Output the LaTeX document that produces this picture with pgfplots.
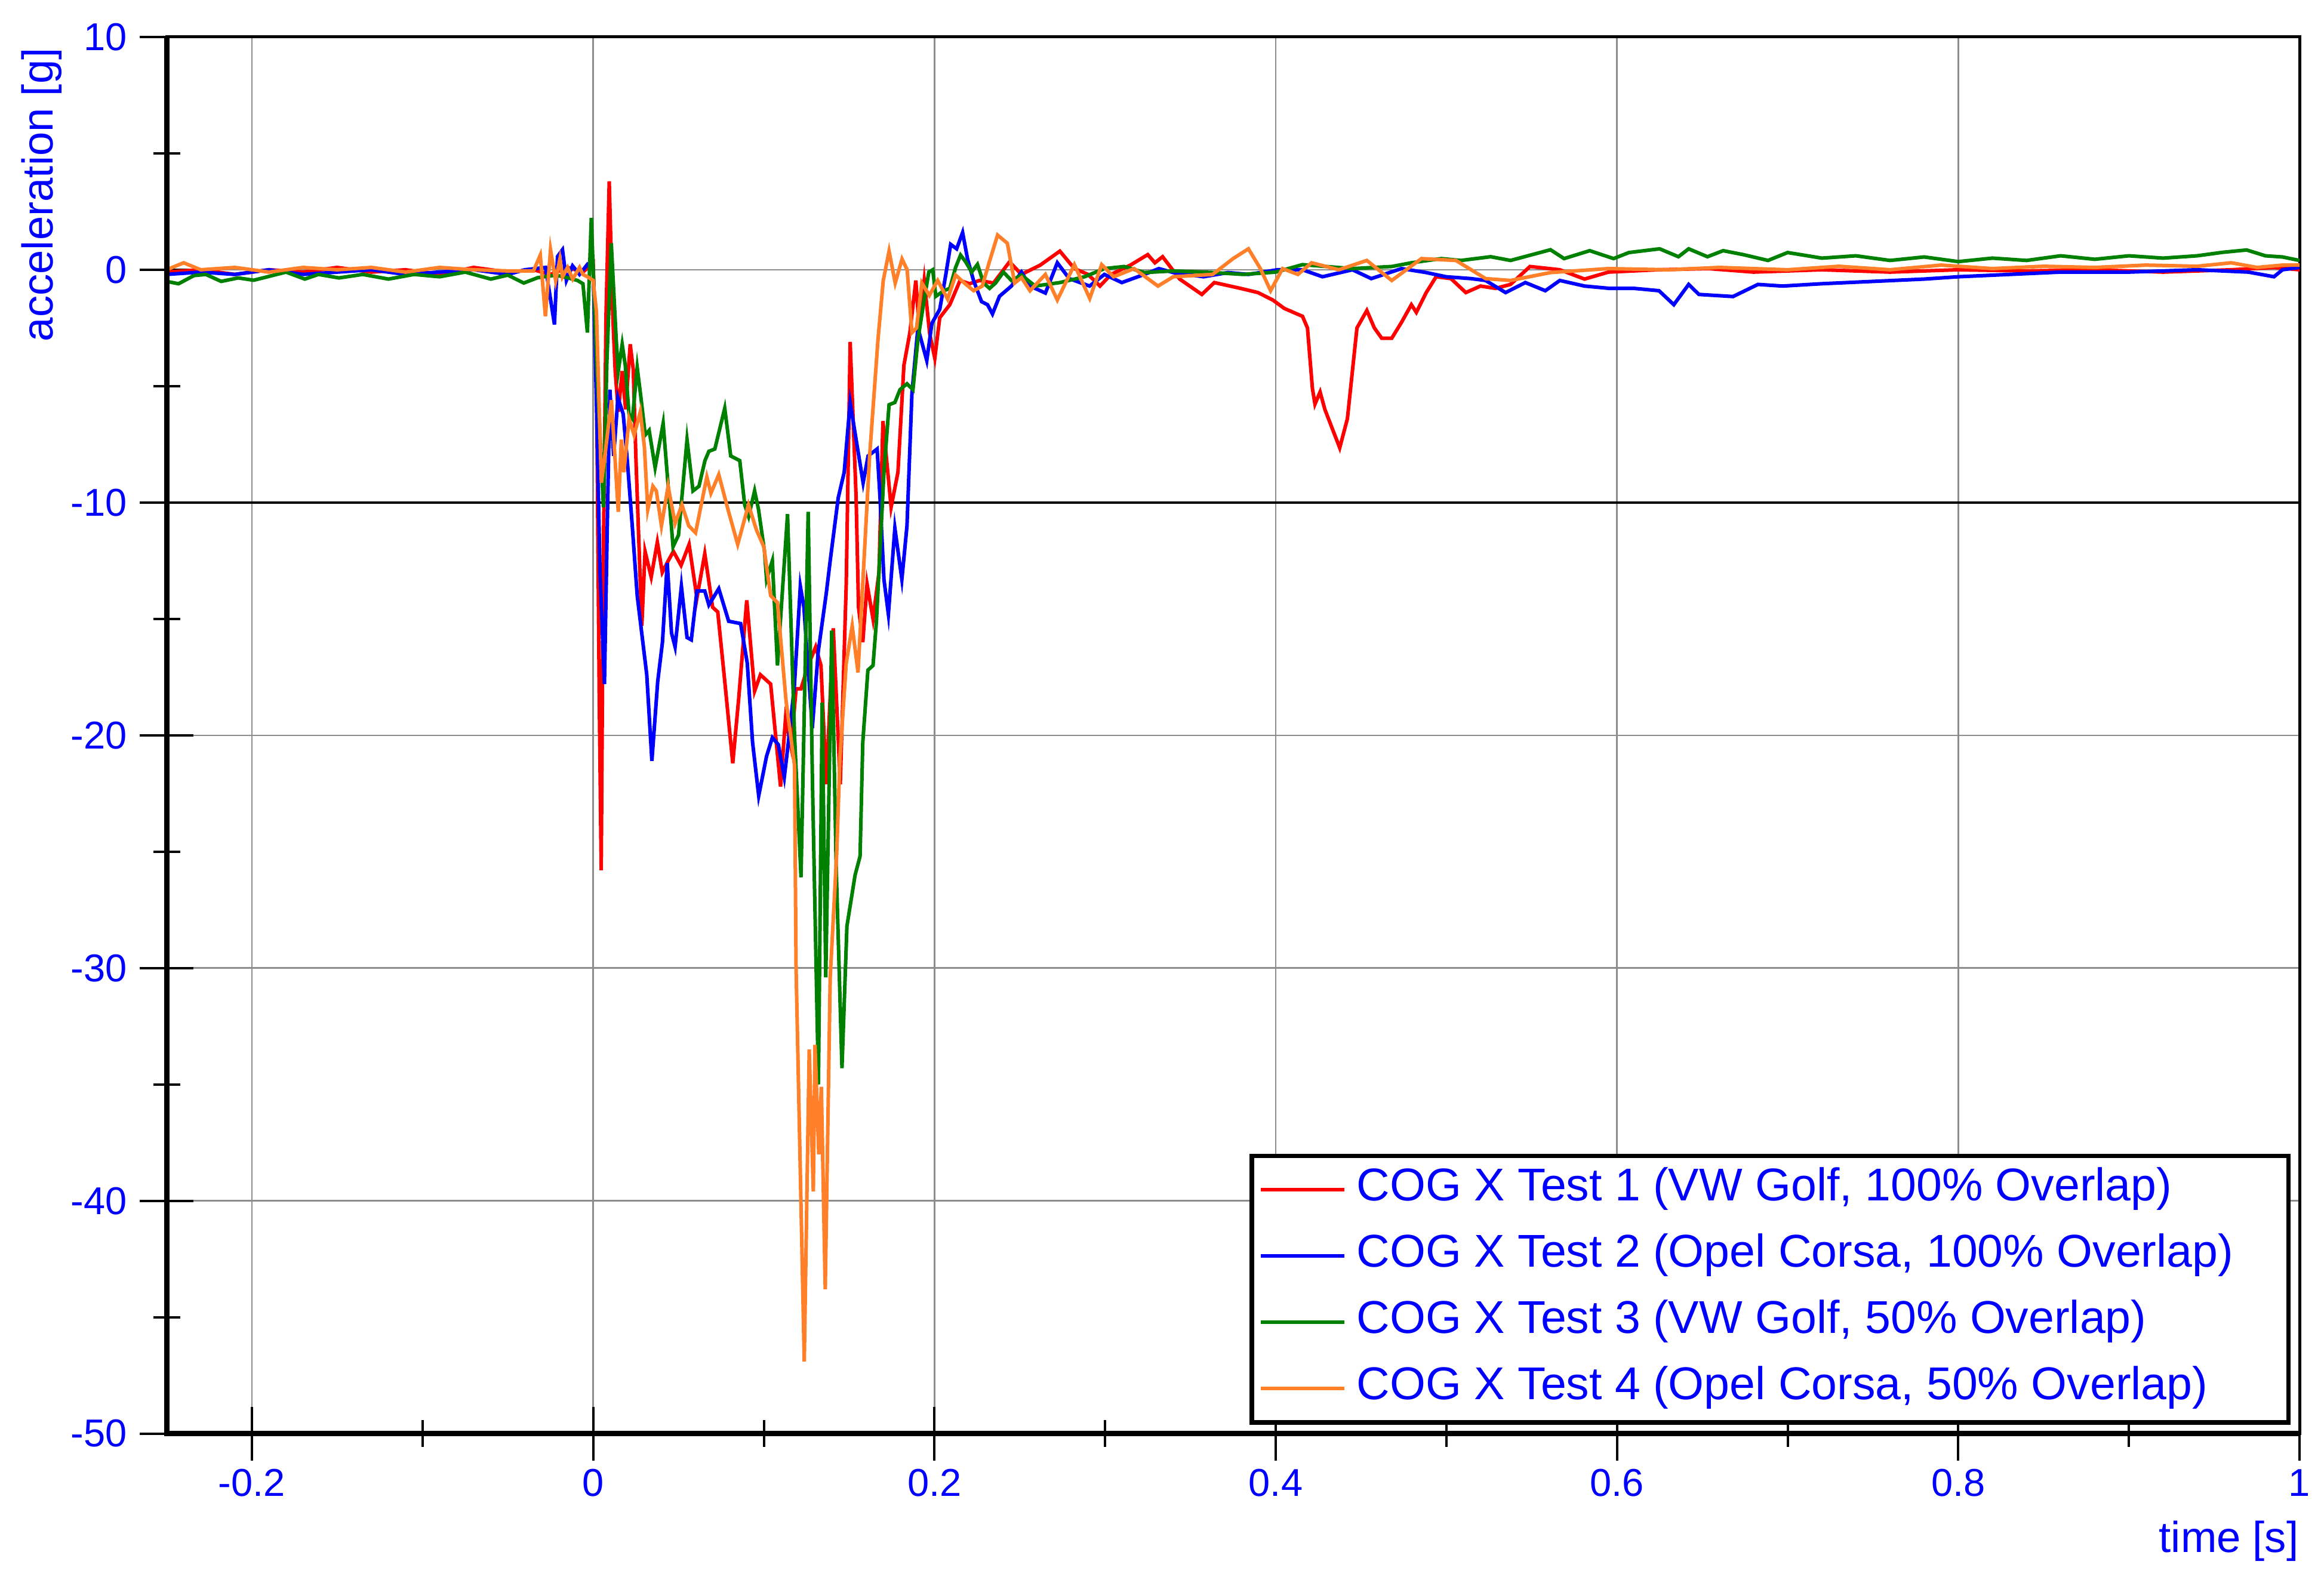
\documentclass[border=0pt]{standalone}
\usepackage{fontspec}
\setmainfont{Liberation Sans}
\usepackage{pgfplots}
\usepackage{pgfplotstable}
\pgfplotsset{compat=1.18}

\definecolor{cogred}{RGB}{255,0,0}
\definecolor{cogblue}{RGB}{0,0,255}
\definecolor{coggreen}{RGB}{0,128,0}
\definecolor{cogorange}{RGB}{255,128,40}
\definecolor{txtblue}{RGB}{0,0,255}

% test 1, VW Golf 100%
\pgfplotstableread{
t a
-0.25 -0.1
-0.23 0.0
-0.21 -0.2
-0.19 0.0
-0.17 -0.1
-0.15 0.1
-0.13 -0.1
-0.11 0.0
-0.09 -0.2
-0.07 0.1
-0.05 -0.1
-0.035 0.0
-0.025 -0.2
-0.015 0.1
-0.006 -0.1
0.000 0.3
0.002 -5
0.0035 -18
0.0047 -25.8
0.006 -12
0.0075 -2
0.0094 3.8
0.0115 -2
0.0129 -4.35
0.0147 -6.1
0.017 -4.35
0.019 -6.0
0.0217 -3.2
0.0235 -4.3
0.025 -8
0.0285 -15.3
0.0304 -12.1
0.034 -13.2
0.0376 -11.7
0.0405 -13.0
0.044 -12.5
0.047 -12.1
0.0515 -12.7
0.0562 -11.8
0.0608 -14.1
0.0654 -12.2
0.070 -14.5
0.073 -14.7
0.077 -17.6
0.0818 -21.2
0.0853 -18.4
0.090 -14.2
0.0946 -18.1
0.098 -17.4
0.104 -17.8
0.1098 -22.2
0.1127 -19.3
0.116 -20.5
0.1189 -18.0
0.1218 -18.0
0.126 -17.0
0.1304 -16.2
0.1335 -17.0
0.1366 -22.1
0.1407 -15.4
0.1448 -22.1
0.1483 -13.5
0.1506 -3.1
0.1541 -9.8
0.1555 -14.5
0.158 -16.0
0.1605 -13.5
0.164 -15.0
0.1675 -13.0
0.1698 -6.5
0.1746 -10.2
0.1786 -8.7
0.1821 -4.1
0.1856 -2.7
0.1891 -0.46
0.191 -2.5
0.194 -0.46
0.1972 -2.75
0.2002 -3.8
0.2031 -2.06
0.209 -1.5
0.215 -0.46
0.2205 -0.6
0.2264 -0.46
0.2346 -0.57
0.244 0.34
0.251 -0.2
0.262 0.2
0.2735 0.8
0.282 0.05
0.290 -0.2
0.297 -0.7
0.3035 -0.2
0.3148 0.2
0.325 0.65
0.3292 0.3
0.3337 0.56
0.3437 -0.4
0.3567 -1.06
0.364 -0.55
0.3794 -0.8
0.3896 -0.98
0.3983 -1.3
0.405 -1.66
0.4157 -2.0
0.4186 -2.5
0.4215 -5.1
0.423 -5.77
0.426 -5.25
0.4288 -6.0
0.4375 -7.65
0.442 -6.4
0.4476 -2.5
0.4534 -1.75
0.4578 -2.5
0.4621 -2.94
0.468 -2.94
0.4737 -2.26
0.4795 -1.5
0.4824 -1.83
0.4882 -0.98
0.494 -0.3
0.5027 -0.38
0.5114 -0.98
0.52 -0.7
0.5288 -0.8
0.5376 -0.63
0.549 0.14
0.5665 0.0
0.581 -0.4
0.595 -0.1
0.624 0.0
0.6537 0.05
0.68 -0.1
0.72 0.0
0.76 -0.1
0.80 0.0
0.84 -0.05
0.88 0.0
0.92 -0.1
0.96 0.0
0.985 0.1
1.0 0.0
}\testone

% test 2, Opel Corsa 100%
\pgfplotstableread{
t a
-0.25 -0.2
-0.23 -0.1
-0.21 -0.2
-0.19 0.0
-0.17 -0.2
-0.15 -0.1
-0.13 0.0
-0.11 -0.2
-0.09 -0.1
-0.07 0.0
-0.05 -0.2
-0.04 0.0
-0.0279 0.1
-0.0227 -2.35
-0.0209 0.57
-0.018 0.86
-0.0157 -0.46
-0.0121 0.17
-0.008 -0.2
-0.0034 0.23
0.000 0.0
0.002 -6
0.004 -13
0.0066 -17.8
0.0085 -10
0.0098 -5.15
0.012 -8.0
0.0145 -5.5
0.0176 -6.2
0.020 -8.2
0.0229 -11.0
0.0258 -14
0.0314 -17.4
0.0344 -21.1
0.0378 -17.7
0.0406 -16.0
0.0434 -12.6
0.0459 -15.6
0.048 -16.2
0.0517 -13.6
0.055 -15.8
0.0575 -15.9
0.0608 -13.8
0.0654 -13.8
0.0678 -14.4
0.0736 -13.7
0.0794 -15.1
0.0864 -15.2
0.0903 -16.9
0.0934 -20.3
0.097 -22.6
0.1016 -20.9
0.105 -20.1
0.1085 -20.4
0.112 -21.8
0.1144 -20.3
0.1179 -17.9
0.1214 -13.6
0.1235 -14.5
0.1284 -19.7
0.1319 -16.4
0.1366 -13.9
0.1389 -12.5
0.1436 -9.8
0.1471 -8.7
0.1506 -5.7
0.1541 -7.3
0.1582 -9.15
0.1611 -8.0
0.1664 -7.7
0.1681 -9.8
0.1704 -13.3
0.173 -14.8
0.1768 -11.1
0.1809 -13.3
0.1839 -11.0
0.1868 -5.3
0.1903 -2.5
0.1955 -3.9
0.1985 -2.3
0.2031 -1.7
0.2066 -0.23
0.2095 1.09
0.2130 0.9
0.2165 1.6
0.2194 0.46
0.2229 -0.46
0.2276 -1.37
0.2311 -1.5
0.234 -1.9
0.2381 -1.14
0.2451 -0.7
0.251 -0.1
0.256 -0.7
0.265 -1.0
0.272 0.3
0.279 -0.38
0.2909 -0.7
0.2996 -0.2
0.3098 -0.55
0.323 -0.2
0.3315 0.05
0.340 -0.12
0.3577 -0.3
0.372 -0.12
0.384 -0.2
0.401 0.0
0.4157 0.0
0.4274 -0.3
0.445 0.0
0.456 -0.38
0.4737 0.05
0.4882 -0.12
0.4998 -0.3
0.5144 -0.38
0.523 -0.46
0.5347 -0.98
0.5463 -0.55
0.558 -0.9
0.5665 -0.46
0.581 -0.7
0.5956 -0.8
0.6101 -0.8
0.6246 -0.9
0.6333 -1.5
0.642 -0.63
0.648 -1.06
0.668 -1.15
0.6826 -0.63
0.697 -0.7
0.72 -0.6
0.75 -0.5
0.78 -0.4
0.80 -0.3
0.83 -0.2
0.86 -0.1
0.90 -0.1
0.94 0.0
0.97 -0.1
0.985 -0.3
0.99 0.0
1.0 0.1
}\testtwo

% test 3, VW Golf 50%
\pgfplotstableread{
t a
-0.25 -0.5
-0.243 -0.6
-0.234 -0.25
-0.227 -0.2
-0.218 -0.5
-0.208 -0.35
-0.199 -0.45
-0.18 -0.1
-0.169 -0.4
-0.161 -0.2
-0.149 -0.35
-0.135 -0.2
-0.12 -0.4
-0.105 -0.2
-0.09 -0.3
-0.075 -0.1
-0.06 -0.4
-0.05 -0.23
-0.0407 -0.57
-0.0325 -0.34
-0.022 -0.23
-0.0151 -0.34
-0.0092 -0.46
-0.006 -0.6
-0.0034 -2.7
-0.0011 2.23
0.002 -4
0.006 -10.2
0.008 -4
0.0106 1.14
0.0135 -3.0
0.0147 -4.35
0.017 -3.2
0.0188 -4.1
0.021 -6.2
0.023 -6.4
0.0258 -4.2
0.028 -5.5
0.0305 -7.1
0.0328 -6.9
0.0363 -8.5
0.041 -6.6
0.0433 -8.7
0.0468 -11.9
0.050 -11.4
0.055 -7.3
0.0585 -9.5
0.062 -9.3
0.0655 -8.2
0.0678 -7.8
0.0713 -7.7
0.0771 -5.95
0.0806 -8.0
0.0859 -8.2
0.0888 -10.1
0.0911 -10.6
0.0946 -9.5
0.0969 -10.3
0.1004 -12.1
0.1016 -13.3
0.105 -12.5
0.108 -17.0
0.1139 -10.5
0.118 -20
0.1218 -26.1
0.126 -10.4
0.1285 -22
0.132 -35
0.1342 -18.6
0.1363 -30.4
0.1398 -15.5
0.1424 -25.6
0.1458 -34.3
0.1487 -28.2
0.1535 -26.0
0.1564 -25.2
0.158 -20.3
0.161 -17.2
0.164 -17.0
0.166 -15.1
0.1704 -8.7
0.1734 -5.8
0.1768 -5.7
0.1798 -5.15
0.1839 -4.9
0.1874 -5.15
0.1903 -3.0
0.1938 -1.37
0.1967 -0.1
0.199 0.0
0.2008 -1.14
0.2055 -0.9
0.209 -0.8
0.2124 0.1
0.2153 0.63
0.2183 0.34
0.2218 -0.1
0.2252 0.23
0.2288 -0.57
0.2323 -0.8
0.2358 -0.57
0.2404 -0.1
0.2451 -0.46
0.251 -0.23
0.259 -0.7
0.2735 -0.55
0.288 -0.3
0.2996 0.05
0.3112 0.14
0.323 -0.12
0.340 -0.05
0.3635 -0.12
0.381 -0.2
0.40 -0.1
0.4157 0.22
0.445 0.05
0.468 0.14
0.4795 0.3
0.497 0.48
0.5085 0.4
0.526 0.56
0.5376 0.4
0.561 0.86
0.569 0.48
0.584 0.82
0.598 0.48
0.607 0.74
0.625 0.9
0.636 0.56
0.642 0.9
0.653 0.56
0.6622 0.82
0.674 0.65
0.6885 0.4
0.70 0.74
0.72 0.5
0.74 0.6
0.76 0.4
0.78 0.55
0.80 0.35
0.82 0.5
0.84 0.4
0.86 0.6
0.88 0.45
0.90 0.6
0.92 0.5
0.94 0.6
0.955 0.75
0.969 0.85
0.98 0.6
0.99 0.55
1.0 0.4
}\testthree

% test 4, Opel Corsa 50%
\pgfplotstableread{
t a
-0.25 0.0
-0.24 0.3
-0.23 0.0
-0.21 0.1
-0.19 -0.1
-0.17 0.1
-0.15 0.0
-0.13 0.1
-0.11 -0.1
-0.09 0.1
-0.07 0.0
-0.05 -0.05
-0.035 -0.05
-0.031 0.63
-0.028 -2.0
-0.025 0.86
-0.022 -0.46
-0.0195 0.46
-0.018 -0.3
-0.015 0.1
-0.012 -0.4
-0.008 0.1
-0.006 -0.2
-0.0034 -0.3
0.000 -0.46
0.0019 -1.8
0.0048 -9.15
0.007 -7.9
0.0107 -5.6
0.0147 -10.4
0.0165 -7.3
0.018 -8.7
0.021 -6.4
0.024 -7.1
0.0276 -6.1
0.030 -7.6
0.032 -10.3
0.035 -9.3
0.037 -9.5
0.040 -11.0
0.0439 -9.3
0.048 -10.9
0.052 -10.1
0.056 -11.0
0.060 -11.3
0.0666 -8.9
0.069 -9.6
0.0736 -8.8
0.079 -10.3
0.0847 -11.8
0.091 -10.1
0.0958 -11.2
0.100 -11.9
0.104 -14.0
0.108 -14.3
0.113 -18.5
0.118 -21.3
0.1189 -30.0
0.1237 -46.9
0.1266 -33.5
0.1290 -39.6
0.1300 -33.3
0.1322 -38.0
0.1337 -35.1
0.1360 -43.8
0.1389 -30.4
0.1427 -25.1
0.1446 -21.0
0.1483 -16.9
0.1518 -15.3
0.1552 -17.3
0.1576 -14.0
0.1620 -8.0
0.1669 -3.0
0.170 -0.46
0.1734 0.8
0.177 -0.57
0.181 0.46
0.184 0.0
0.1868 -2.7
0.1895 -2.5
0.1926 -0.57
0.197 -1.1
0.2019 -0.46
0.2077 -1.26
0.2124 -0.23
0.218 -0.6
0.223 -0.9
0.228 -0.7
0.232 0.3
0.237 1.49
0.2427 1.14
0.247 -0.57
0.251 -0.34
0.256 -0.9
0.265 -0.2
0.272 -1.3
0.282 0.22
0.291 -1.23
0.298 0.22
0.305 -0.3
0.317 0.05
0.331 -0.7
0.34 -0.3
0.363 -0.2
0.375 0.48
0.384 0.9
0.391 0.05
0.397 -0.9
0.404 0.05
0.413 -0.2
0.421 0.3
0.437 0.0
0.4534 0.4
0.468 -0.46
0.4854 0.48
0.5056 0.4
0.523 -0.38
0.5376 -0.46
0.561 -0.12
0.595 0.05
0.63 0.0
0.66 0.1
0.70 0.0
0.73 0.15
0.76 0.0
0.79 0.2
0.82 0.05
0.85 0.15
0.88 0.1
0.91 0.2
0.94 0.15
0.96 0.3
0.975 0.1
0.99 0.2
1.0 0.2
}\testfour

\begin{document}
\begin{tikzpicture}
\begin{axis}[
  scale only axis, width=714.4pt, height=467.8pt,
  xmin=-0.25, xmax=1, ymin=-50, ymax=10,
  xtick={-0.2,0,0.2,0.4,0.6,0.8,1},
  xticklabels={-0.2,0,0.2,0.4,0.6,0.8,1},
  ytick={-50,-40,-30,-20,-10,0,10},
  yticklabels={-50,-40,-30,-20,-10,0,10},
  minor x tick num=1, minor y tick num=1,
  tick pos=left, tick align=center,
  major tick length=18pt, minor tick length=9pt,
  tick style={black, line width=0.8pt},
  grid=major, major grid style={black!45, line width=0.5pt},
  extra y ticks={-10}, extra y tick labels={},
  extra y tick style={major grid style={black, line width=0.7pt}, major tick length=0pt},
  axis line style={black, line width=1pt},
  tick label style={font=\fontsize{13}{15}\selectfont, text=txtblue},
  xticklabel style={yshift=0.6pt},
  yticklabel style={xshift=-0.7pt},
  xlabel={time [s]}, ylabel={acceleration [g]},
  label style={font=\fontsize{14.5}{17}\selectfont, text=txtblue},
  xlabel style={at={(rel axis cs:1.0045,-0.077)}, anchor=east},
  ylabel style={at={(rel axis cs:-0.0587,0.9997)}, anchor=east},
  clip=false,
  legend cell align=left,
  legend image code/.code={\draw[#1] (0pt,0pt) -- (28pt,0pt);},
  legend style={at={(rel axis cs:0.9958,0.0064)}, anchor=south east,
    draw=black, line width=1.5pt, fill=white, inner sep=2.5pt,
    font=\fontsize{15.4}{18}\selectfont, text=txtblue,
    row sep=4.5pt, column sep=2pt,
    nodes={inner sep=1.5pt, text height=11pt, text depth=3.7pt}},
]
\addplot[cogred, line width=1.2pt] table[x=t, y=a] {\testone};
\addlegendentry{\makebox[308pt][l]{COG X Test 1 (VW Golf, 100\% Overlap)}}
\addplot[cogblue, line width=1.2pt] table[x=t, y=a] {\testtwo};
\addlegendentry{COG X Test 2 (Opel Corsa, 100\% Overlap)}
\addplot[coggreen, line width=1.2pt] table[x=t, y=a] {\testthree};
\addlegendentry{COG X Test 3 (VW Golf, 50\% Overlap)}
\addplot[cogorange, line width=1.2pt] table[x=t, y=a] {\testfour};
\addlegendentry{COG X Test 4 (Opel Corsa, 50\% Overlap)}
\draw[black, line width=1.8pt] (rel axis cs:0,1) -- (rel axis cs:0,0) -- (rel axis cs:1,0);
\end{axis}
\path ([shift={(-55.8pt,-52pt)}]current axis.south west) rectangle ([shift={(8.2pt,12.4pt)}]current axis.north east);
\end{tikzpicture}
\end{document}
